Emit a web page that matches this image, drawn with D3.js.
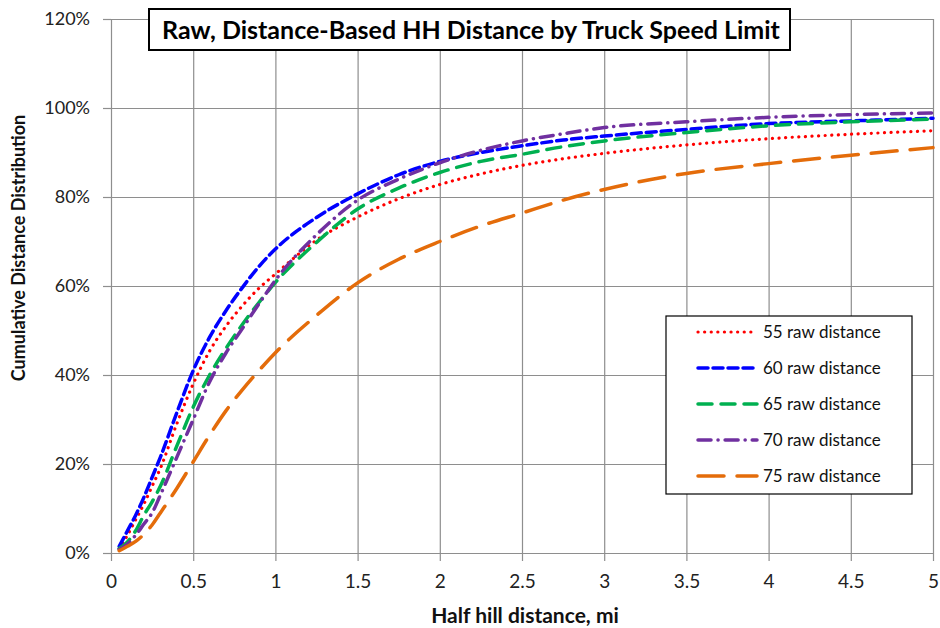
<!DOCTYPE html>
<html>
<head>
<meta charset="utf-8">
<script src="https://cdn.jsdelivr.net/npm/d3@7"></script>
<style>
  html, body { margin: 0; padding: 0; background: #fff; }
  svg { display: block; font-family: Lato, "Open Sans", sans-serif; }
</style>
</head>
<body>
<svg id="chart" width="940" height="628"></svg>
<script>
const title = "Raw, Distance-Based HH Distance by Truck Speed Limit";
const xTitle = "Half hill distance, mi";
const yTitle = "Cumulative Distance Distribution";
const xTicks = [0, 0.5, 1, 1.5, 2, 2.5, 3, 3.5, 4, 4.5, 5];
const yTicks = [0, 0.2, 0.4, 0.6, 0.8, 1.0, 1.2];
const distances = [0.05, 0.1, 0.15, 0.2, 0.25, 0.3, 0.4, 0.5, 0.6, 0.7, 0.8, 0.9, 1.0, 1.25, 1.5, 1.75, 2.0, 2.25, 2.5, 2.75, 3.0, 3.5, 4.0, 4.5, 5.0];
const seriesNames = ["55 raw distance", "60 raw distance", "65 raw distance", "70 raw distance", "75 raw distance"];
const raw55 = [1.0, 4.0, 7.5, 11.0, 15.0, 19.0, 29.0, 38.0, 45.4, 51.0, 55.6, 59.5, 62.7, 70.3, 75.5, 79.6, 82.8, 85.2, 87.1, 88.6, 89.8, 91.7, 93.1, 94.1, 94.9];
const raw60 = [1.5, 5.0, 8.5, 12.5, 17.0, 21.5, 31.5, 41.0, 48.5, 54.5, 59.7, 64.4, 68.3, 75.4, 80.7, 85.0, 88.0, 90.0, 91.5, 92.8, 93.7, 95.2, 96.5, 97.1, 97.7];
const raw65 = [1.0, 2.5, 5.0, 8.5, 11.5, 15.0, 24.0, 32.8, 40.0, 46.0, 51.4, 56.3, 60.8, 69.8, 77.3, 82.0, 85.5, 88.0, 89.6, 91.3, 92.6, 94.5, 96.0, 96.9, 97.5];
const raw70 = [0.8, 2.0, 4.0, 6.5, 9.0, 13.0, 21.5, 30.0, 38.5, 45.0, 50.5, 56.0, 61.3, 71.5, 79.3, 84.0, 87.7, 90.5, 92.6, 94.2, 95.6, 96.9, 97.9, 98.5, 98.9];
const raw75 = [0.5, 1.5, 2.6, 4.2, 6.3, 9.0, 14.5, 20.5, 26.5, 32.0, 36.7, 41.0, 45.0, 53.4, 60.7, 66.0, 70.0, 73.5, 76.4, 79.3, 81.7, 85.3, 87.5, 89.4, 91.1];
const seriesValues = [raw55, raw60, raw65, raw70, raw75];

const styles = [
  { color: "#FF0000", width: 3.2, dash: "0.1 6.5", cap: "round" },
  { color: "#0000FF", width: 3.5, dash: "10 5", cap: "round" },
  { color: "#00B050", width: 3.5, dash: "14 9", cap: "round" },
  { color: "#7030A0", width: 3.5, dash: "13 7 0.1 7", cap: "round" },
  { color: "#E46C0A", width: 3.5, dash: "26 13", cap: "round" }
];

const svg = d3.select("#chart");
const m = { left: 111, right: 933, top: 19, bottom: 553 };
const x = d3.scaleLinear().domain([0, 5]).range([m.left, m.right]);
const y = d3.scaleLinear().domain([0, 1.2]).range([m.bottom, m.top]);
const gridColor = "#8e8e8e";

// horizontal gridlines via y axis
const yAxis = svg.append("g").attr("transform", `translate(${m.left},0)`)
  .call(d3.axisLeft(y).tickValues(yTicks).tickFormat(d3.format(".0%"))
    .tickSizeInner(-(m.right - m.left)).tickSizeOuter(0).tickPadding(21));
yAxis.select(".domain").remove();
yAxis.selectAll(".tick line").attr("stroke", gridColor).attr("stroke-width", 1.2);
yAxis.selectAll(".tick").append("line").attr("x1", -8).attr("x2", 0).attr("stroke", gridColor).attr("stroke-width", 1.2);
yAxis.selectAll("text").attr("font-size", 18).attr("fill", "#222").attr("font-family", "Lato, sans-serif");

// vertical gridlines via x axis
const xAxis = svg.append("g").attr("transform", `translate(0,${m.bottom})`)
  .call(d3.axisBottom(x).tickValues(xTicks).tickFormat(d3.format("~g"))
    .tickSizeInner(-(m.bottom - m.top)).tickSizeOuter(0).tickPadding(22));
xAxis.select(".domain").remove();
xAxis.selectAll(".tick line").attr("stroke", gridColor).attr("stroke-width", 1.2);
xAxis.selectAll(".tick").append("line").attr("y1", 0).attr("y2", 8).attr("stroke", gridColor).attr("stroke-width", 1.2);
xAxis.selectAll("text").attr("font-size", 19).attr("fill", "#222").attr("font-family", "Lato, sans-serif");

// axis titles
svg.append("text").attr("x", 525).attr("y", 623).attr("text-anchor", "middle")
  .attr("font-weight", "bold").attr("font-size", 21).attr("fill", "#111").text(xTitle);
svg.append("text").attr("transform", "translate(25,248) rotate(-90)").attr("text-anchor", "middle")
  .attr("font-weight", "bold").attr("font-size", 18).attr("fill", "#111").text(yTitle);

// lines
const line = d3.line().x(d => x(d[0])).y(d => y(d[1] / 100)).curve(d3.curveMonotoneX);
seriesValues.forEach((vals, i) => {
  const pts = distances.map((dv, j) => [dv, vals[j]]);
  svg.append("path").datum(pts).attr("d", line).attr("fill", "none")
    .attr("stroke", styles[i].color).attr("stroke-width", styles[i].width)
    .attr("stroke-dasharray", styles[i].dash).attr("stroke-linecap", styles[i].cap);
});

// title box
const tb = svg.append("g");
tb.append("rect").attr("x", 149).attr("y", 9).attr("width", 641).attr("height", 41)
  .attr("fill", "#fff").attr("stroke", "#000").attr("stroke-width", 2);
tb.append("text").attr("x", 471).attr("y", 39).attr("text-anchor", "middle")
  .attr("font-weight", "bold").attr("font-size", 25).attr("fill", "#000").text(title);

// legend
const lg = svg.append("g");
lg.append("rect").attr("x", 666).attr("y", 316).attr("width", 246).attr("height", 178)
  .attr("fill", "#fff").attr("stroke", "#000").attr("stroke-width", 1.2);
seriesNames.forEach((name, i) => {
  const cy = 332 + i * 36;
  lg.append("line").attr("x1", 698).attr("x2", 757).attr("y1", cy).attr("y2", cy)
    .attr("stroke", styles[i].color).attr("stroke-width", styles[i].width)
    .attr("stroke-dasharray", styles[i].dash).attr("stroke-linecap", styles[i].cap);
  lg.append("text").attr("x", 763).attr("y", cy + 6).attr("font-size", 17).attr("fill", "#111").text(name);
});
</script>
</body>
</html>
